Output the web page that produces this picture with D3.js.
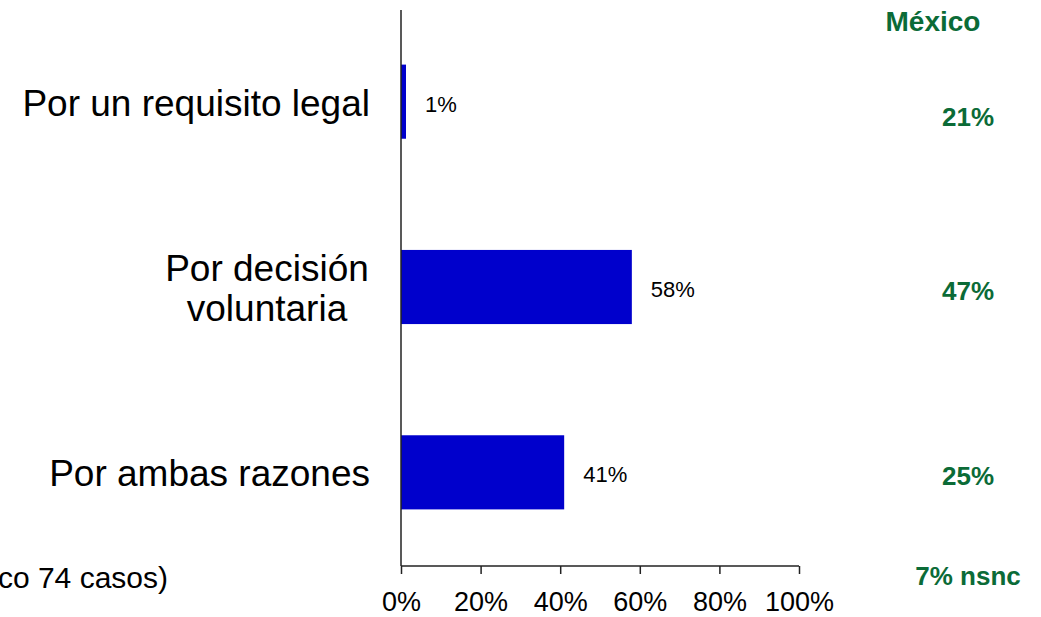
<!DOCTYPE html>
<html>
<head>
<meta charset="utf-8">
<script src="https://cdn.jsdelivr.net/npm/d3@7"></script>
<style>
  body { margin: 0; background: #fff; }
  text { font-family: "Liberation Sans", Arial, sans-serif; }
</style>
</head>
<body>
<div id="chart"></div>
<script>
// data
var categories = [["Por un requisito legal"], ["Por decisión", "voluntaria"], ["Por ambas razones"]];
var values = [1, 58, 41];
var mexico = ["21%", "47%", "25%"];
var ticks = [0, 20, 40, 60, 80, 100];

var W = 1041, H = 617;
var x0 = 401, x1 = 799, yTop = 10, yBot = 566;
var green = "#0b6b37";

var svg = d3.select("#chart").append("svg")
  .attr("width", W).attr("height", H);

var xScale = d3.scaleLinear().domain([0, 100]).range([x0, x1]);
var yScale = d3.scaleBand().domain(d3.range(categories.length))
  .range([yTop, yBot]).paddingInner(0.6).paddingOuter(0.3);

// bars
svg.selectAll(".bar").data(values).enter().append("rect")
  .attr("x", x0)
  .attr("y", function(d, i) { return yScale(i) - 1; })
  .attr("width", function(d) { return Math.max(xScale(d) - x0, 5); })
  .attr("height", yScale.bandwidth())
  .style("fill", "#0000cc");

// value labels
svg.selectAll(".val").data(values).enter().append("text")
  .attr("x", function(d) { return Math.max(xScale(d), x0 + 5) + 19; })
  .attr("y", function(d, i) { return yScale(i) + yScale.bandwidth() / 2 + 9; })
  .style("font-size", "22px").style("fill", "#000")
  .text(function(d) { return d + "%"; });

// x axis
var xAxis = svg.append("g")
  .attr("transform", "translate(0," + yBot + ")")
  .call(d3.axisBottom(xScale).tickValues(ticks).tickSize(8).tickPadding(18)
    .tickFormat(function(d) { return d + "%"; }));
xAxis.select(".domain").attr("d", "M" + x0 + ",0H" + x1).attr("stroke", "#222").attr("stroke-width", 1.5);
xAxis.selectAll(".tick line").attr("stroke", "#222").attr("stroke-width", 1.5);
xAxis.selectAll(".tick text").style("font-size", "27px").style("font-family", "Liberation Sans, Arial, sans-serif").attr("fill", "#000");

// y axis line
svg.append("line")
  .attr("x1", x0).attr("x2", x0).attr("y1", yTop).attr("y2", yBot)
  .attr("stroke", "#222").attr("stroke-width", 1.5);

// category labels
categories.forEach(function(lines, i) {
  var cy = yScale(i) + yScale.bandwidth() / 2;
  var t = svg.append("text")
    .style("font-size", "37px").style("fill", "#000");
  if (lines.length == 1) {
    t.attr("x", 370).attr("y", cy + 13).attr("text-anchor", "end").text(lines[0]);
  } else {
    lines.forEach(function(l, j) {
      t.append("tspan").attr("x", 267).attr("text-anchor", "middle")
        .attr("y", cy - 7 + j * 40).text(l);
    });
  }
});

// Mexico column
svg.append("text").attr("x", 933).attr("y", 31).attr("text-anchor", "middle")
  .style("font-size", "28px").style("font-weight", "bold").style("fill", green)
  .text("México");
svg.selectAll(".mx").data(mexico).enter().append("text")
  .attr("x", 968).attr("text-anchor", "middle")
  .attr("y", function(d, i) { return yScale(i) + yScale.bandwidth() / 2 + (i == 0 ? 23 : 12); })
  .style("font-size", "26px").style("font-weight", "bold").style("fill", green)
  .text(function(d) { return d; });
svg.append("text").attr("x", 968).attr("y", 585).attr("text-anchor", "middle")
  .style("font-size", "26px").style("font-weight", "bold").style("fill", green)
  .text("7% nsnc");

// base note (runs off the left edge, as in the original)
svg.append("text").attr("x", 168).attr("y", 588).attr("text-anchor", "end")
  .style("font-size", "30px").style("fill", "#000")
  .text("(Base: Público 74 casos)");
</script>
</body>
</html>
